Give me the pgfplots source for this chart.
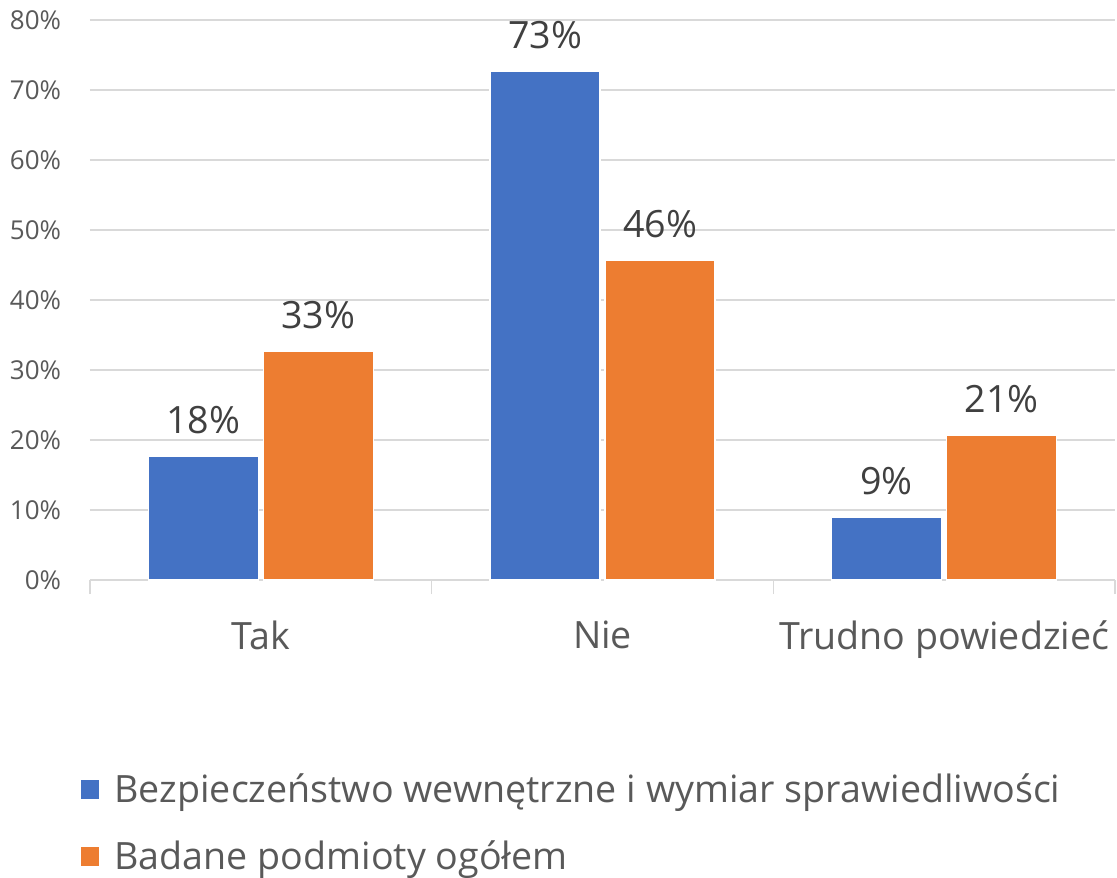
\documentclass[border=0pt]{standalone}
\usepackage{pgfplots}
\pgfplotsset{compat=1.18}
\usepackage{fontspec}
\setmainfont{Open Sans}
\definecolor{cblue}{HTML}{4472C4}
\definecolor{corange}{HTML}{ED7D31}
\definecolor{cgrid}{HTML}{D9D9D9}
\definecolor{ctick}{HTML}{595959}
\definecolor{clabel}{HTML}{404040}
\begin{document}
\begin{tikzpicture}
\path[use as bounding box] (-45pt,-148.5pt) rectangle (513.5pt,290pt);
\begin{axis}[
  at={(0pt,0pt)}, anchor=south west,
  scale only axis,
  width=512.5pt, height=280pt,
  xmin=-0.5, xmax=2.5,
  ymin=0, ymax=80,
  ybar=2.5pt, bar width=55pt,
  axis x line*=bottom, axis y line*=left,
  x axis line style={cgrid, line width=0.75pt},
  y axis line style={draw=none},
  xtick={0,1,2},
  xticklabels={Tak,Nie,Trudno powiedzieć},
  major x tick style={draw=none},
  minor xtick={-0.5,0.5,1.5,2.5},
  minor x tick style={cgrid, line width=0.75pt},
  minor tick length=7pt,
  tick align=outside,
  xticklabel style={font=\fontsize{18.8}{22}\selectfont, text=ctick, anchor=north, inner sep=0pt, yshift=-16pt},
  ytick={0,10,...,80},
  ymajorgrids,
  grid style={cgrid, line width=0.75pt},
  major y tick style={draw=none},
  yticklabel={\pgfmathprintnumber{\tick}\%},
  yticklabel style={font=\fontsize{13}{16}\selectfont, text=ctick, anchor=east, inner sep=0pt, xshift=-10pt},
  /pgf/number format/assume math mode=true,
  nodes near coords={\pgfmathprintnumber[fixed,precision=0]{\pgfplotspointmeta}\%},
  nodes near coords style={font=\fontsize{18.8}{22}\selectfont, text=clabel, anchor=south, inner sep=0pt, yshift=11pt},
  legend image code/.code={\fill[#1] (0pt,-5pt) rectangle (10pt,5pt); \path (17pt,0pt);},
  legend style={at={(-0.0107,-0.345)}, anchor=north west, draw=none, fill=none,
    font=\fontsize{18.8}{22}\selectfont, text=ctick, row sep=17.5pt, inner sep=0pt,
    nodes={inner sep=0pt, text=ctick}},
  legend cell align=left,
  legend columns=1,
]
\addplot[fill=cblue, draw=white, line width=0.6pt] coordinates {(0,17.7) (1,72.6) (2,8.9)};
\addplot[fill=corange, draw=white, line width=0.6pt] coordinates {(0,32.7) (1,45.6) (2,20.7)};
\legend{Bezpieczeństwo wewnętrzne i wymiar sprawiedliwości, Badane podmioty ogółem}
\end{axis}
\end{tikzpicture}
\end{document}
